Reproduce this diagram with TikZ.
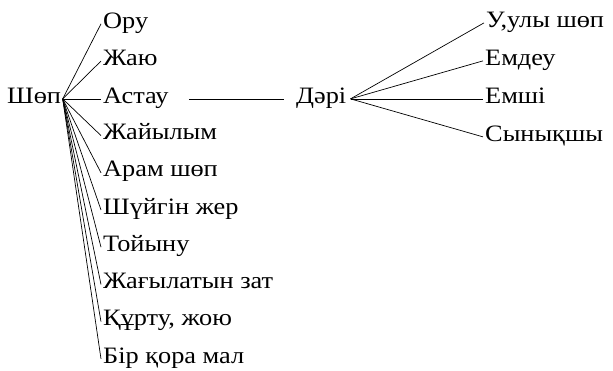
\documentclass[tikz,border=0pt]{standalone}
\usepackage{fontspec}
\setmainfont{Liberation Serif}[FakeStretch=1.12]
\begin{document}
\begin{tikzpicture}[x=1pt,y=-1pt,
  lbl/.style={anchor=base west,inner sep=0pt,text height=1.8ex,text depth=0pt,font=\fontsize{23.5}{27}\selectfont},
  edge/.style={line width=0.7pt}]
\useasboundingbox (0,0) rectangle (613,370);
\node[lbl] (shop) at (7,103) {Шөп};
\node[lbl] (c1) at (103,28) {Ору};
\node[lbl] (c2) at (103,65.2) {Жаю};
\node[lbl] (c3) at (103,103) {Астау};
\node[lbl] (c4) at (103,139.7) {Жайылым};
\node[lbl] (c5) at (103,176.9) {Арам шөп};
\node[lbl] (c6) at (103,214.1) {Шүйгін жер};
\node[lbl] (c7) at (103,251.3) {Тойыну};
\node[lbl] (c8) at (103,288.6) {Жағылатын зат};
\node[lbl] (c9) at (103,325.8) {Құрту, жою};
\node[lbl] (c10) at (103,363) {Бір қора мал};
\node[lbl] (dari) at (296,103) {Дәрі};
\node[lbl] (d1) at (486,27) {У,улы шөп};
\node[lbl] (d2) at (485,65) {Емдеу};
\node[lbl] (d3) at (485,103) {Емші};
\node[lbl] (d4) at (485,141) {Сынықшы};
\coordinate (so) at ([xshift=1.5pt]shop.east);
\coordinate (do) at ([xshift=4pt]dari.east);
\foreach \c in {c1,c2,c3,c4,c5,c6,c7,c8,c9,c10}
  \draw[edge] (so) -- ([xshift=-2pt]\c.west);
\foreach \c in {d1,d2,d3,d4}
  \draw[edge] (do) -- ([xshift=-2pt]\c.west);
\draw[edge,shorten <=20pt,shorten >=12pt] (c3.east) -- (dari.west);
\end{tikzpicture}
\end{document}
